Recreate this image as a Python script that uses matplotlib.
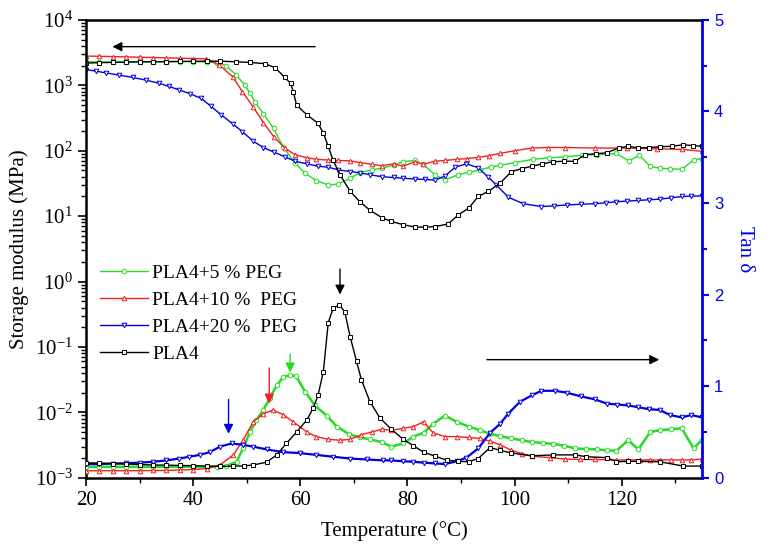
import numpy as np
import matplotlib
matplotlib.use("Agg")
import matplotlib.pyplot as plt
from matplotlib.ticker import FixedLocator, MultipleLocator, NullFormatter

plt.rcParams['font.family'] = ['Liberation Serif', 'DejaVu Serif']
plt.rcParams['mathtext.fontset'] = 'stix'

# storage modulus (MPa), left log axis
t_e5 = [20, 22.5, 25, 27.5, 30, 32.5, 35, 37.5, 40, 42.5, 44.5, 46.1, 48, 49.6, 50.6, 51.5, 53.1,
        55, 56.8, 59, 60.9, 63, 65.2, 67.1, 69.3, 71.1, 73.3, 75.2, 77.4, 79.2, 81.4, 82.9,
        85.1, 87, 89.5, 91.5, 93.5, 95.5, 97.3, 100, 103.5, 106.5, 109.4, 112.5, 115.3, 119,
        121.3, 123.3, 125.3, 127.1, 129, 131.2, 133.4, 134.9]
e5 = [2290, 2270, 2270, 2290, 2300, 2300, 2300, 2300, 2300, 2280, 2200, 2000, 1450, 1020, 760,
      560, 370, 220, 115, 65, 45, 35, 30, 31, 38, 46, 51, 54, 60, 68, 71, 62,
      43, 36, 43, 47, 51, 56, 60, 66, 74, 78, 81, 85, 87, 91,
      70, 85, 58, 54, 53, 52, 72, 76]

t_e10 = [20, 22.5, 25, 27.5, 30, 32.5, 35, 37.5, 40, 42.4, 44.9, 47.4, 49.2, 51.2, 53.1, 55.1,
         57.1, 59, 61.2, 63, 65.2, 67.1, 69.3, 71.1, 73.3, 75.2, 77.4, 79.2, 81.4, 82.9, 85.1,
         87, 89.2, 91.2, 93.2, 95.2, 97.3, 100, 103.2, 106.3, 109.4, 115, 120.9, 126.5,
         131.2, 134.9]
e10 = [2800, 2780, 2750, 2720, 2690, 2660, 2630, 2600, 2570, 2540, 2040, 1350, 794, 468, 270, 162,
       110, 87, 78, 74, 72, 71, 70, 66, 62, 59, 63, 58, 68, 62, 69,
       71, 74, 76, 79, 84, 91, 100, 110, 112, 112, 110, 110, 107,
       105, 98]

t_e20 = [20, 21.8, 23.7, 26.2, 28.7, 31.2, 33.7, 35.5, 37.4, 39.5, 41.5, 43.3, 45.2, 47.4, 49.2,
         51.2, 53.1, 55.1, 57.1, 59, 61.2, 63.3, 65.2, 67.1, 69.3, 71.1, 73, 75.2, 77.4, 79.2,
         81.4, 83.2, 85.1, 87, 88.9, 91, 93.2, 95, 96.6, 98.8, 101.6, 105, 107.4, 109.7, 112.3,
         115, 117, 119, 121, 123.1, 125.1, 127.1, 129.1, 131.2, 133, 134.9]
e20 = [1740, 1650, 1550, 1430, 1320, 1200, 1070, 960, 850, 740, 630, 480, 355, 257, 195,
       140, 112, 95, 81, 69, 63, 58, 56, 51, 48, 46, 43, 40, 39, 38,
       37, 36.5, 35.5, 41, 56, 63, 55, 40, 30, 19.5, 15.5, 14, 14.4, 14.8, 15.2,
       15.5, 16, 16.6, 17, 17.4, 17.8, 18.2, 19, 20, 20.2, 20.4]

t_e0 = [20, 22.5, 25, 27.5, 30, 32.5, 35, 37.5, 40, 42.5, 45, 48, 50.6, 53.4, 55.3, 57.1, 58.2,
        58.7, 59.3, 61.2, 63.3, 64.3, 65.2, 66.1, 67.4, 69.3, 71.1, 73, 75.2, 77, 79.2, 81.4,
        83.3, 85.1, 87.6, 89.5, 91.4, 93.2, 95.1, 97.3, 99.4, 101.3, 103.2, 105.2, 107.2,
        109.2, 111.3, 113.1, 115.2, 117.2, 119.4, 121.2, 123.1, 125.1, 127.1, 129.3, 131.5,
        133.2, 134.9]
e0 = [2190, 2220, 2240, 2260, 2280, 2290, 2300, 2320, 2330, 2340, 2340, 2290, 2240, 2140, 1860,
      1320, 1070, 790, 500, 355, 263, 186, 117, 72, 43, 24, 16.6, 12.3, 9.5, 8.3, 7.4, 6.8,
      6.8, 6.9, 7.6, 10.5, 13.2, 20, 24, 32, 48, 53, 58, 63, 68,
      69, 69, 87, 90, 93, 110, 117, 110, 112, 115, 117, 123,
      120, 117]

# tan delta, right linear axis
t_d5 = [20, 22.5, 25, 27.5, 30, 32.5, 35, 37.5, 40, 42.5, 44.5, 46.2, 48.1, 49.3, 50.6, 51.8,
        53.1, 54.3, 55.6, 56.8, 58.1, 59.2, 60.9, 62.7, 64.9, 66.8, 69, 71.1, 73, 75.2, 77,
        79.2, 81.1, 83, 84.8, 87, 89.2, 91.4, 93.5, 95.4, 97.3, 99.4, 101.3, 103.2, 105.3,
        107.2, 109.3, 111.3, 113.3, 115.3, 117.2, 119, 121.2, 123.1, 125.3, 127.1, 129.2,
        131.2, 133.4, 134.9]
d5 = [0.12, 0.12, 0.12, 0.12, 0.12, 0.12, 0.12, 0.12, 0.12, 0.12, 0.12, 0.13, 0.175, 0.32, 0.50,
      0.63, 0.74, 0.87, 1.01, 1.10, 1.12, 1.11, 0.94, 0.79, 0.68, 0.56, 0.48, 0.44, 0.42, 0.39,
      0.34, 0.376, 0.45, 0.49, 0.59, 0.68, 0.61, 0.56, 0.52, 0.48, 0.455, 0.43, 0.41, 0.39,
      0.38, 0.37, 0.35, 0.32, 0.315, 0.31, 0.30, 0.296, 0.41, 0.31, 0.50, 0.52, 0.53,
      0.54, 0.32, 0.41]

t_d10 = [20, 22.5, 25, 27.5, 30, 32.5, 35, 37.5, 40, 42.5, 45, 47.5, 49.3, 51.2, 53.1, 54.9,
         56.8, 58.7, 61.2, 63, 65.2, 67.4, 69.3, 71.4, 73.3, 75.2, 77, 79.2, 81.1, 83, 84.8,
         87, 89.2, 91.4, 93.5, 95.4, 97.3, 99.4, 101.3, 103.2, 106.6, 109.4, 112.2, 115, 119,
         121.2, 123.4, 125.3, 127.1, 129.2, 131.2, 133, 134.9]
d10 = [0.077, 0.077, 0.077, 0.077, 0.077, 0.08, 0.08, 0.085, 0.09, 0.10, 0.14, 0.25, 0.41, 0.61,
       0.70, 0.74, 0.69, 0.61, 0.50, 0.45, 0.42, 0.41, 0.42, 0.47, 0.50, 0.53, 0.52, 0.54,
       0.56, 0.61, 0.49, 0.45, 0.45, 0.44, 0.43, 0.40, 0.36, 0.30, 0.265, 0.236, 0.22,
       0.205, 0.20, 0.20, 0.195, 0.195, 0.195, 0.195, 0.195, 0.195, 0.195, 0.195, 0.205]

t_d20 = [20, 22.5, 25, 27.5, 30, 32.5, 35, 37.4, 39.3, 41.2, 43.1, 45, 47.2, 49.3, 51.2, 53.7,
         56.8, 59.9, 63, 66.1, 69.3, 72.4, 75.5, 77, 79.2, 81.1, 83, 85.1, 87, 89.2, 91, 93.2,
         95.4, 97.3, 98.8, 101, 103.2, 105, 107.5, 109.7, 112.3, 115, 117.2, 119.2, 121.2,
         123.1, 125, 127.1, 129, 131.2, 133, 134.9]
d20 = [0.15, 0.15, 0.155, 0.16, 0.165, 0.175, 0.19, 0.21, 0.23, 0.25, 0.28, 0.34, 0.375, 0.36,
       0.34, 0.31, 0.28, 0.27, 0.25, 0.23, 0.21, 0.20, 0.19, 0.19, 0.18, 0.175, 0.165, 0.157,
       0.15, 0.18, 0.22, 0.32, 0.49, 0.59, 0.70, 0.83, 0.90, 0.95, 0.95, 0.93, 0.89, 0.856,
       0.81, 0.80, 0.79, 0.77, 0.75, 0.74, 0.685, 0.66, 0.685, 0.66]

t_d0 = [20, 22.5, 25, 27.5, 30, 32.5, 35, 37.5, 40, 42.5, 45, 47.5, 49.5, 51.2, 53.7, 55.6, 57.4,
        59.3, 61.2, 62.4, 63.3, 64.3, 65.2, 66.1, 67.3, 68.3, 69.3, 70.5, 71.4, 73, 74.9, 77,
        79.2, 81.1, 83, 85.1, 87.3, 89.5, 91.4, 93.2, 95.4, 97.3, 99.4, 103.2, 107.2, 111.3,
        113.4, 117.2, 119, 121.2, 123.1, 127.1, 131.5, 134.9]
d0 = [0.164, 0.16, 0.155, 0.15, 0.145, 0.14, 0.138, 0.135, 0.132, 0.128, 0.125, 0.127, 0.13,
      0.14, 0.17, 0.25, 0.375, 0.50, 0.63, 0.76, 0.90, 1.16, 1.69, 1.85, 1.89, 1.81, 1.54,
      1.27, 1.07, 0.83, 0.65, 0.53, 0.42, 0.35, 0.28, 0.237, 0.193, 0.18, 0.175, 0.21, 0.33,
      0.30, 0.27, 0.24, 0.25, 0.25, 0.23, 0.22, 0.175, 0.18, 0.18, 0.175, 0.128, 0.128]

labels = ["PLA4+5 % PEG", "PLA4+10 %  PEG", "PLA4+20 %  PEG", "PLA4"]
colors = ['#22dd22', '#ee2020', '#0000dd', 'black']
markers = ['o', '^', 'v', 's']
tan_lw = [1.8, 1.0, 1.6, 1.0]

fig = plt.figure(figsize=(7.75, 5.53), dpi=100)
ax = fig.add_axes([0.111, 0.136, 0.795, 0.828])
ax2 = ax.twinx()

mod_sets = [(t_e5, e5), (t_e10, e10), (t_e20, e20), (t_e0, e0)]
tan_sets = [(t_d5, d5), (t_d10, d10), (t_d20, d20), (t_d0, d0)]

handles = []
for (tx, ty), c, m in zip(mod_sets, colors, markers):
    h, = ax.plot(tx, ty, color=c, lw=1.0, marker=m, ms=3.3, mfc='white', mec=c, mew=0.7)
    handles.append(h)
for (tx, ty), c, m, lw in zip(tan_sets, colors, markers, tan_lw):
    ax2.plot(tx, ty, color=c, lw=lw, marker=m, ms=3.3, mfc='white', mec=c, mew=0.7)

ax.set_yscale('log')
ax.set_xlim(20, 135)
ax.set_ylim(1e-3, 1e4)
ax2.set_ylim(0, 5)

decades = 10.0 ** np.arange(-3, 5)
ax.yaxis.set_major_locator(FixedLocator(decades))
ax.yaxis.set_minor_locator(FixedLocator([d * s for d in decades[:-1] for s in range(2, 10)]))
ax.yaxis.set_minor_formatter(NullFormatter())
ax.xaxis.set_major_locator(MultipleLocator(20))
ax.xaxis.set_minor_locator(MultipleLocator(10))
ax2.yaxis.set_major_locator(MultipleLocator(1))
ax2.yaxis.set_minor_locator(MultipleLocator(0.5))

ax.tick_params(axis='both', which='major', direction='out', length=6, width=1.2, labelsize=15)
ax.tick_params(axis='both', which='minor', direction='out', length=3.5, width=1.0)
ax.tick_params(axis='x', which='both', top=False)
ax2.tick_params(axis='y', which='major', direction='out', length=5, width=1.5, colors='#0000ee',
                labelsize=12)
ax2.tick_params(axis='y', which='minor', direction='out', length=3.5, width=1.5, colors='#0000ee')
for lab in ax2.get_yticklabels():
    lab.set_family('Liberation Sans')

for s in ['left', 'bottom', 'top']:
    ax.spines[s].set_linewidth(1.8)
ax2.spines['right'].set_color('#0000ee')
ax2.spines['right'].set_linewidth(2.0)
for s in ['left', 'bottom', 'top']:
    ax2.spines[s].set_visible(False)

ax.set_xlabel("Temperature (°C)", fontsize=15, labelpad=8)
ax.set_ylabel("Storage modulus (MPa)", fontsize=15, labelpad=4)
ax2.set_ylabel("Tan δ", fontsize=15, color='#0000ee', rotation=270, labelpad=22)

ax.legend(handles, labels, loc='upper left', bbox_to_anchor=(-0.006, 0.505), frameon=False,
          fontsize=14, numpoints=1, handlelength=2.5, handletextpad=0.2, labelspacing=0.48)

# direction arrows
arr = dict(arrowstyle='-|>', color='black', lw=1.0, mutation_scale=14)
ax.annotate('', xy=(24.4, 3900), xytext=(63.3, 3900), arrowprops=arr)
ax2.annotate('', xy=(127.5, 1.29), xytext=(94.3, 1.29), arrowprops=arr)

# peak markers
peak_t = [58.1, 54.2, 46.6, 67.4]
peak_top = [1.38, 1.23, 0.885, 2.31]
peak_tip = [1.12, 0.78, 0.45, 1.97]
for pt, y0, y1, c in zip(peak_t, peak_top, peak_tip, colors):
    ax2.annotate('', xy=(pt, y1), xytext=(pt, y0),
                 arrowprops=dict(arrowstyle='-|>', color=c, lw=1.0, mutation_scale=14))

fig.savefig("out.png", dpi=100)
